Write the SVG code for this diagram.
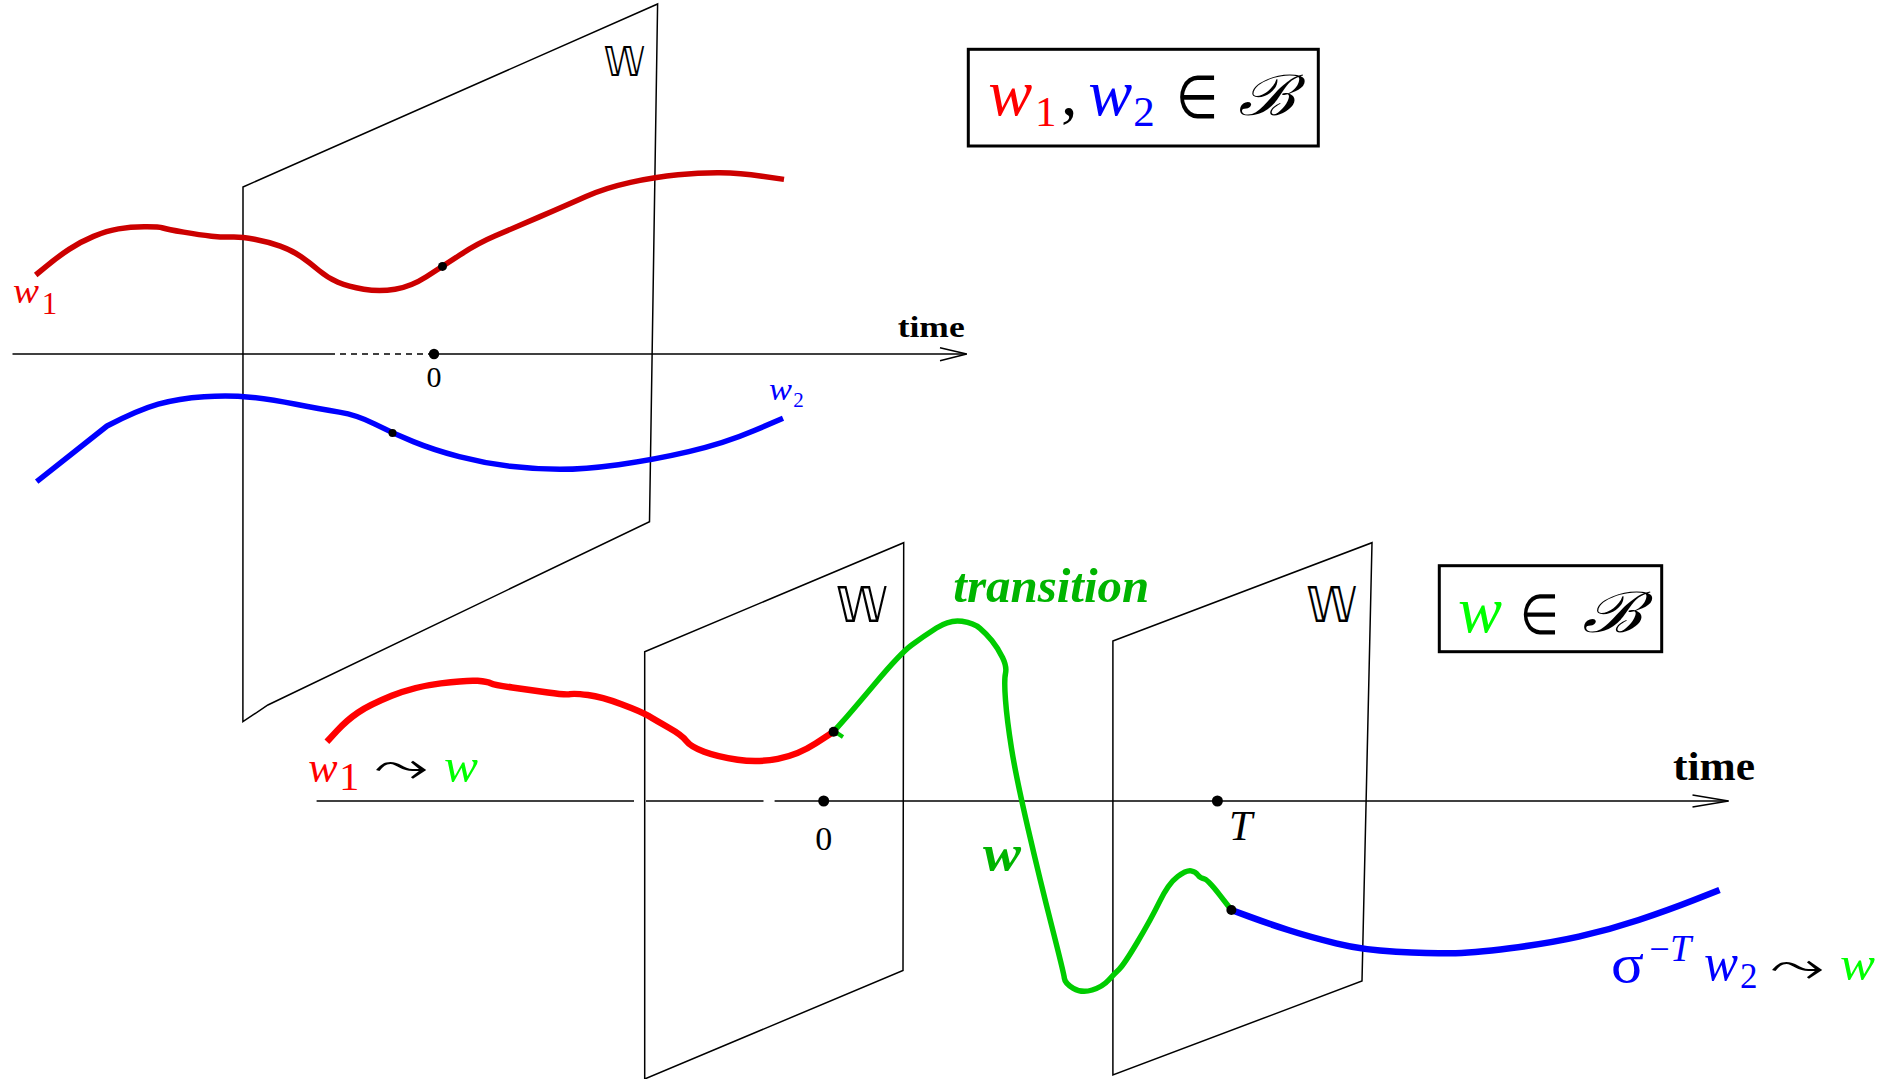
<svg xmlns="http://www.w3.org/2000/svg" width="1888" height="1079" viewBox="0 0 1888 1079">
<style>
.plane{fill:none;stroke:#000;stroke-width:1.5;stroke-linejoin:miter}
.axis{fill:none;stroke:#000;stroke-width:1.5}
.curve{fill:none;stroke-linejoin:round;stroke-linecap:butt}
.serif{font-family:"Liberation Serif","Times New Roman",serif}
.it{font-style:italic}
.bb{font-weight:bold}
.ds{font-family:"DejaVu Sans",sans-serif}
.arr{font-family:"DejaVu Sans","Noto Sans",sans-serif}
.dot{fill:#000}
.box{fill:none;stroke:#000;stroke-width:3}
</style>
<rect width="1888" height="1079" fill="#fff"/>

<!-- planes -->
<g id="plane-top">
<polygon class="plane" points="243,187 657.6,4 649.5,521.7 267.9,705 242.9,721.7"/>
<text class="ds" x="603.6" y="76" font-size="40" textLength="41.5" lengthAdjust="spacingAndGlyphs">𝕎</text>
</g>
<g id="plane-mid">
<polygon class="plane" points="644.7,651.7 903.7,542.7 903,970.5 644.7,1079"/>
<text class="ds" x="835.8" y="621.7" font-size="50" textLength="52" lengthAdjust="spacingAndGlyphs">𝕎</text>
</g>
<g id="plane-right">
<polygon class="plane" points="1112.9,641 1372,542.7 1362,981 1112.9,1075"/>
<text class="ds" x="1306" y="621.7" font-size="50" textLength="51" lengthAdjust="spacingAndGlyphs">𝕎</text>
</g>

<!-- axes -->
<g id="axes">
<line class="axis" x1="12.5" y1="354" x2="329" y2="354"/>
<line class="axis" x1="329" y1="354" x2="434" y2="354" stroke-dasharray="6,5"/>
<line class="axis" x1="434" y1="354" x2="966.7" y2="354"/>
<polyline class="axis" points="940,347.7 966.7,354 940,360.7"/>
<circle class="dot" cx="434" cy="354" r="5.2"/>
<text class="serif" x="434" y="386.7" font-size="30" text-anchor="middle">0</text>
<text class="serif bb" x="897.7" y="337.3" font-size="30" textLength="67" lengthAdjust="spacingAndGlyphs">time</text>

<line class="axis" x1="316.6" y1="801" x2="634" y2="801"/>
<line class="axis" x1="646" y1="801" x2="763.5" y2="801"/>
<line class="axis" x1="774.6" y1="801" x2="1728.5" y2="801"/>
<polyline class="axis" points="1692.5,795 1728.5,801 1692.5,807"/>
<circle class="dot" cx="823.7" cy="801" r="5.5"/>
<circle class="dot" cx="1217.4" cy="801" r="5.5"/>
<text class="serif" x="823.7" y="850" font-size="34" text-anchor="middle">0</text>
<text class="serif it" x="1229" y="840" font-size="42">T</text>
<text class="serif bb" x="1673" y="780" font-size="40" textLength="82" lengthAdjust="spacingAndGlyphs">time</text>
</g>

<!-- curves -->
<g id="curves">
<path id="w1-top" class="curve" stroke="#cc0000" stroke-width="5.5" d="M35.7,275 L46.85,265.85 Q58,256.7 69,249.35 Q80,242 93.5,236.35 Q107,230.7 118.5,228.85 Q130,227 144.25,226.85 Q158.5,226.7 162.95,228 Q167.4,229.3 183.7,232.15 Q200,235 211.5,236.15 Q223,237.3 232,237 Q241,236.7 254.5,239.2 Q268,241.7 280.2,246.2 Q292.4,250.7 301.2,256.85 Q310,263 319,270.5 Q328,278 338,282.35 Q348,286.7 363.75,289.2 Q379.5,291.7 395.1,289.2 Q410.7,286.7 426.35,276.7 Q442,266.7 459.85,255 Q477.7,243.3 495.35,235.8 Q513,228.3 540,216.65 Q567,205 586,196.5 Q605,188 630.5,182.35 Q656,176.7 678,174.7 Q700,172.7 720,172.85 Q740,173 762,176.2 L784,179.4"/>
<path id="w2-top" class="curve" stroke="#0000ff" stroke-width="5.5" d="M36.7,481.7 L107,426 Q137.8,410 158.2,404.15 Q178.6,398.3 204.1,396.65 Q229.6,395 250,397.15 Q270.4,399.3 295.9,404.3 Q321.4,409.3 339.2,412.15 Q357,415 374.95,424.15 Q392.9,433.3 413.3,441.65 Q433.7,450 459.2,456.65 Q484.7,463.3 510.2,466.3 Q535.7,469.3 559.85,469.3 Q584,469.3 618.5,464.65 Q653,460 688.75,451.65 Q724.5,443.3 753.75,430.8 L783,418.3"/>
<circle class="dot" cx="442.5" cy="266.4" r="4.5"/>
<circle class="dot" cx="392.5" cy="433" r="4"/>

<path id="w1-low" class="curve" stroke="#ff0000" stroke-width="6.5" d="M326.9,741.7 L336.95,730.85 Q347,720 358.15,712.5 Q369.3,705 391.65,695.85 Q414,686.7 440.75,683.35 Q467.5,680 477.55,680.85 Q487.6,681.7 490.95,683.35 Q494.3,685 512.15,687.5 Q530,690 547.85,692.5 Q565.7,695 570.15,694.15 Q574.6,693.3 588,695 Q601.4,696.7 621.5,704.2 Q641.6,711.7 648.3,715.85 Q655,720 668.4,727.5 Q681.8,735 686.25,740.85 Q690.7,746.7 704.1,751.7 Q717.5,756.7 737.6,759.7 Q757.7,762.7 777.8,758.85 Q797.9,755 815.75,743.35 L833.6,731.7"/>
<path id="w-trans" class="curve" stroke="#00cc00" stroke-width="5.5" d="M833.6,731.7 L842.5,721.7 Q851.4,711.7 875.95,682.5 Q900.5,653.3 911.7,645 Q922.9,636.7 936.45,628 Q950,619.3 962,621.3 Q974,623.3 980,628.3 Q986,633.3 992,640.8 Q998,648.3 1002.5,657.5 Q1007,666.7 1005.5,673.35 Q1004,680 1005.5,700 Q1007,720 1011.5,748.35 Q1016,776.7 1028,828.35 Q1040,880 1051.9,926.65 Q1063.8,973.3 1064.4,978.3 Q1065,983.3 1073.35,988.3 Q1081.7,993.3 1092.2,990 Q1102.7,986.7 1108.7,980 Q1114.7,973.3 1119.2,969.15 Q1123.7,965 1137.15,942.5 Q1150.6,920 1159.6,901.65 Q1168.6,883.3 1177.55,876.65 Q1186.5,870 1191,870.85 Q1195.5,871.7 1197.9,875 Q1200.3,878.3 1203.9,878.8 Q1207.5,879.3 1219.45,894.65 L1231.4,910"/>
<line class="curve" stroke="#00cc00" stroke-width="4" x1="834" y1="731" x2="843" y2="737"/>
<path id="w2-low" class="curve" stroke="#0000ff" stroke-width="6.5" d="M1231.4,910 L1249.4,916.65 Q1267.4,923.3 1288.2,930 Q1309,936.7 1336,943.35 Q1363,950 1396,951.65 Q1429,953.3 1450,953.3 Q1471,953.3 1509.9,948.3 Q1548.8,943.3 1578.75,936.65 Q1608.7,930 1638.65,920 Q1668.6,910 1694.05,900 L1719.5,890"/>
<circle class="dot" cx="833.6" cy="731.7" r="5"/>
<circle class="dot" cx="1231.4" cy="910" r="5"/>
</g>

<!-- labels -->
<g id="labels">
<text class="serif" fill="#ee0000"><tspan class="it" x="13" y="303.3" font-size="35" textLength="26" lengthAdjust="spacingAndGlyphs">w</tspan><tspan x="41.7" y="314" font-size="31">1</tspan></text>
<text class="serif" fill="#0000ff"><tspan class="it" x="769" y="400" font-size="32" textLength="23" lengthAdjust="spacingAndGlyphs">w</tspan><tspan x="793.3" y="407.3" font-size="21">2</tspan></text>

<text class="serif" fill="#ff0000"><tspan class="it" x="308.3" y="781.7" font-size="44">w</tspan><tspan x="339.3" y="790" font-size="40">1</tspan></text>
<text class="arr" x="374" y="781" font-size="44" textLength="54" lengthAdjust="spacingAndGlyphs">⤳</text>
<text class="serif it" x="444" y="781.7" font-size="48" fill="#00ff00" textLength="34" lengthAdjust="spacingAndGlyphs">w</text>

<text class="serif it bb" x="953.3" y="601.7" font-size="48" fill="#00b400" textLength="196" lengthAdjust="spacingAndGlyphs">transition</text>
<text class="serif it bb" x="983" y="870" font-size="50" fill="#00b400" textLength="38" lengthAdjust="spacingAndGlyphs">w</text>

<text class="serif" fill="#0000ff"><tspan x="1611" y="982" font-size="54" textLength="33" lengthAdjust="spacingAndGlyphs">σ</tspan><tspan x="1649.3" y="961" font-size="36">−</tspan><tspan class="it" x="1670" y="961" font-size="38">T</tspan><tspan class="it" x="1704" y="980" font-size="52" textLength="34" lengthAdjust="spacingAndGlyphs">w</tspan><tspan x="1740" y="988" font-size="35">2</tspan></text>
<text class="arr" x="1770" y="981" font-size="44" textLength="54" lengthAdjust="spacingAndGlyphs">⤳</text>
<text class="serif it" x="1840" y="980" font-size="48" fill="#00ff00" textLength="35" lengthAdjust="spacingAndGlyphs">w</text>
</g>

<g id="box-top">
<rect class="box" x="968.3" y="49.3" width="350" height="96.7"/>
<text class="serif" font-size="66"><tspan class="it" x="988.3" y="115" fill="#ff0000">w</tspan><tspan x="1035" y="126" font-size="43" fill="#ff0000">1</tspan><tspan x="1061" y="115">,</tspan><tspan class="it" x="1088.3" y="115" fill="#0000ff">w</tspan><tspan x="1133.3" y="126" font-size="43" fill="#0000ff">2</tspan></text>
<text class="serif" x="1176" y="118" font-size="60" textLength="42" lengthAdjust="spacingAndGlyphs">∈</text>
<text class="serif it" x="1238" y="115" font-size="56" textLength="57" lengthAdjust="spacingAndGlyphs">ℬ</text>
</g>
<g id="box-low">
<rect class="box" x="1439.3" y="565.7" width="222.4" height="86"/>
<text class="serif it" x="1458" y="631.7" font-size="66" fill="#00ff00">w</text>
<text class="serif" x="1520" y="634" font-size="56" textLength="39" lengthAdjust="spacingAndGlyphs">∈</text>
<text class="serif it" x="1581.7" y="631.7" font-size="56" textLength="60" lengthAdjust="spacingAndGlyphs">ℬ</text>
</g>
</svg>
